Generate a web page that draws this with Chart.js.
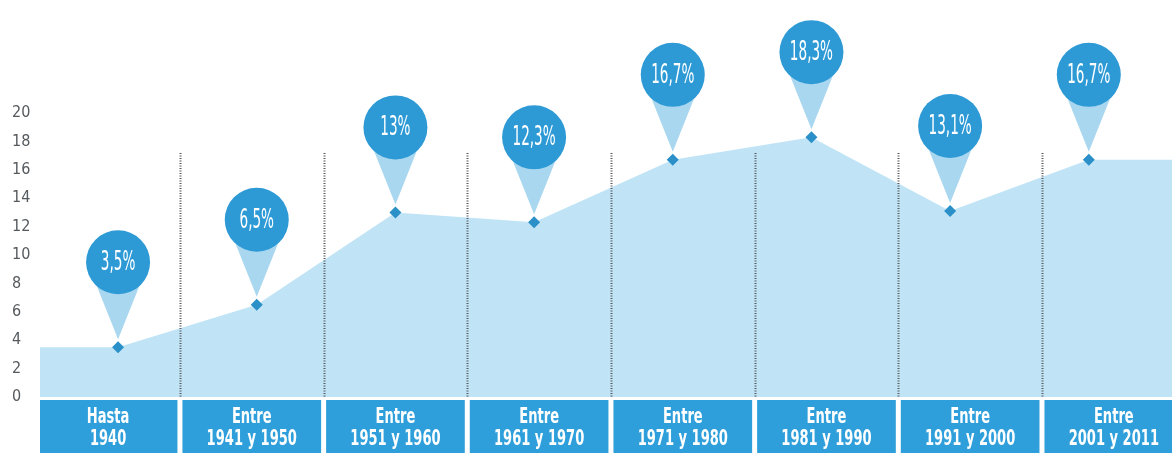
<!DOCTYPE html>
<html>
<head>
<meta charset="utf-8">
<script src="https://cdn.jsdelivr.net/npm/chart.js@4/dist/chart.umd.min.js"></script>
<style>
  html, body { margin: 0; padding: 0; background: #fff; }
  #wrap { width: 1172px; height: 453px; position: relative; }
</style>
</head>
<body>
<div id="wrap"><canvas id="chart"></canvas></div>
<script>
const periodTop = ["Hasta", "Entre", "Entre", "Entre", "Entre", "Entre", "Entre", "Entre"];
const periodBottom = ["1940", "1941 y 1950", "1951 y 1960", "1961 y 1970", "1971 y 1980", "1981 y 1990", "1991 y 2000", "2001 y 2011"];
const shares = [3.5, 6.5, 13, 12.3, 16.7, 18.3, 13.1, 16.7];
const yTicks = [0, 2, 4, 6, 8, 10, 12, 14, 16, 18, 20];

const FONT = '"Liberation Sans Narrow", "DejaVu Sans Condensed", "Roboto Condensed", sans-serif';
const X_MIN = -0.563;
const X_MAX = 7.6;

// area runs flat out to both edges of the plot
const areaPoints = [{ x: X_MIN, y: shares[0] }]
    .concat(shares.map((v, i) => ({ x: i, y: v })))
    .concat([{ x: X_MAX, y: shares[shares.length - 1] }]);
const radii = areaPoints.map((p, i) => (i === 0 || i === areaPoints.length - 1) ? 0 : 6);

function pctLabel(v) {
    return String(v).replace(".", ",") + "%";
}

// no condensed face installed, so squeeze the text horizontally
function narrowText(ctx, text, x, y, squeeze) {
    ctx.save();
    ctx.translate(x, y);
    ctx.scale(squeeze, 1);
    ctx.fillText(text, 0, 0);
    ctx.restore();
}

const bandsPlugin = {
    id: "bands",
    afterDatasetsDraw(chart) {
        const { ctx, chartArea, scales } = chart;
        const xb = scales.xb;
        // dotted separators
        ctx.save();
        ctx.strokeStyle = "#55595d";
        ctx.lineWidth = 2;
        ctx.setLineDash([1, 1.5]);
        for (let k = 1; k < periodBottom.length; k++) {
            const x = Math.round(xb.getPixelForValue(k)) + 0.5;
            ctx.beginPath();
            ctx.moveTo(x, chartArea.top + 40);
            ctx.lineTo(x, chartArea.bottom);
            ctx.stroke();
        }
        ctx.restore();

        // category boxes under the plot
        ctx.save();
        const top = chartArea.bottom + 3;
        const bottom = chart.height;
        periodBottom.forEach((label, k) => {
            const x0 = Math.max(xb.getPixelForValue(k) + 2.5, chartArea.left);
            const x1 = xb.getPixelForValue(k + 1) - 2.5;
            ctx.fillStyle = "#2e9fdb";
            ctx.fillRect(x0, top, x1 - x0, bottom - top);
            const cx = xb.getPixelForValue(k + 0.5);
            ctx.fillStyle = "#ffffff";
            ctx.font = "bold 22px " + FONT;
            ctx.textAlign = "center";
            ctx.textBaseline = "middle";
            narrowText(ctx, periodTop[k], cx, top + 17, 0.66);
            narrowText(ctx, label, cx, top + 39, 0.66);
        });
        ctx.restore();
    }
};

const pinsPlugin = {
    id: "pins",
    afterDatasetsDraw(chart) {
        const { ctx } = chart;
        const pts = chart.getDatasetMeta(0).data;
        ctx.save();
        shares.forEach((v, i) => {
            const p = pts[i + 1];
            const cx = p.x;
            const cy = p.y - 85;
            const r = 32;
            ctx.fillStyle = "#a9d7ef";
            ctx.beginPath();
            ctx.moveTo(cx - 22, cy + 22);
            ctx.lineTo(cx + 22, cy + 22);
            ctx.lineTo(p.x, p.y - 8);
            ctx.closePath();
            ctx.fill();

            ctx.fillStyle = "#2d9ad6";
            ctx.beginPath();
            ctx.arc(cx, cy, r, 0, Math.PI * 2);
            ctx.fill();

            ctx.fillStyle = "#ffffff";
            ctx.font = "27px " + FONT;
            ctx.textAlign = "center";
            ctx.textBaseline = "middle";
            narrowText(ctx, pctLabel(v), cx, cy + 1, 0.56);
        });
        ctx.restore();
    }
};

const ctx = document.getElementById("chart").getContext("2d");
const chart = new Chart(ctx, {
    type: "line",
    data: {
        datasets: [{
            data: areaPoints,
            fill: "origin",
            backgroundColor: "#c0e4f6",
            borderWidth: 0,
            borderColor: "#c0e4f6",
            tension: 0,
            pointStyle: "rectRot",
            pointRadius: radii,
            pointBackgroundColor: "#2b8fc8",
            pointBorderWidth: 0
        }]
    },
    options: {
        responsive: true,
        maintainAspectRatio: false,
        animation: false,
        layout: { padding: { left: 12, top: 113, right: 0, bottom: 56 } },
        plugins: {
            legend: { display: false },
            tooltip: { enabled: false }
        },
        scales: {
            x: {
                type: "linear",
                min: X_MIN,
                max: X_MAX,
                display: false
            },
            xb: {
                type: "linear",
                position: "bottom",
                min: 0.026,
                max: 7.905,
                display: false
            },
            y: {
                min: 0,
                max: 20,
                grid: { display: false },
                border: { display: false },
                afterBuildTicks: s => { s.ticks = yTicks.map(v => ({ value: v })); },
                afterFit: s => { s.width = 28; },
                ticks: {
                    color: "#555a5e",
                    padding: 0,
                    crossAlign: "far",
                    font: { family: FONT, size: 16 }
                }
            }
        }
    },
    plugins: [bandsPlugin, pinsPlugin]
});
</script>
</body>
</html>
